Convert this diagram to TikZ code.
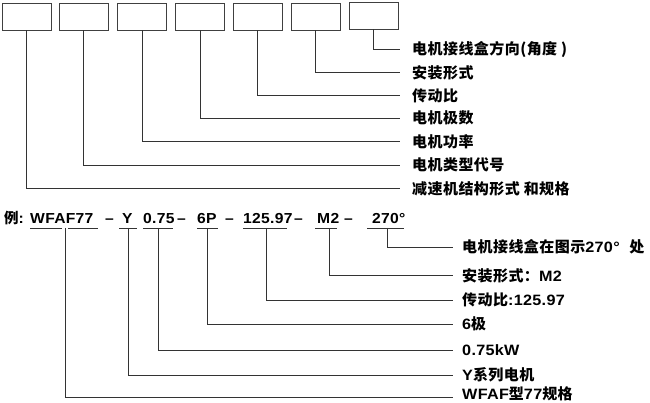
\documentclass[tikz,border=0pt]{standalone}
\usepackage{fontspec}
\setmainfont{Liberation Sans}[FakeStretch=1.08, LetterSpace=2]
\newfontfamily\cjk{Noto Sans CJK SC}[LetterSpace=3]
\newcommand{\zh}[1]{{\cjk\bfseries #1}}
\begin{document}
\begin{tikzpicture}[x=1pt,y=-1pt,
  box/.style={draw=black!75, line width=0.8pt, minimum width=49pt, minimum height=27pt, inner sep=0pt},
  lbl/.style={anchor=west, inner sep=0pt, font=\fontsize{15}{17}\selectfont\bfseries},
  ex/.style={anchor=base west, inner sep=0pt, font=\fontsize{14.5}{16}\selectfont\bfseries},
  ln/.style={draw=black!80, line width=0.75pt}]
\useasboundingbox (0,0) rectangle (650,403);
% top boxes
\node[box] (b1) at (26.5,16.5) {};
\node[box] (b2) at (83.5,16.5) {};
\node[box] (b3) at (142,16.5) {};
\node[box] (b4) at (200,16.5) {};
\node[box] (b5) at (257.5,16.5) {};
\node[box] (b6) at (315.5,16.5) {};
\node[box] (b7) at (373.5,15.5) {};
% top labels
\node[lbl] (l7) at (412,49) {\zh{电机接线盒方向(角度 )}};
\node[lbl] (l6) at (412,72.5) {\zh{安装形式}};
\node[lbl] (l5) at (412,95.5) {\zh{传动比}};
\node[lbl] (l4) at (412,118) {\zh{电机极数}};
\node[lbl] (l3) at (412,141.5) {\zh{电机功率}};
\node[lbl] (l2) at (412,165) {\zh{电机类型代号}};
\node[lbl] (l1) at (412,188.5) {\zh{减速机结构形式 和规格}};
\foreach \i in {1,...,7}{
  \draw[ln] (b\i.south) |- ([xshift=-12pt]l\i.west);
}
% example line
\node[ex] (e0) at (4,224) {\zh{例}:};
\node[ex] (e1) at (30,224) {WFAF77};
\node[ex] (d1) at (105,224) {–};
\node[ex] (e2) at (122,224) {Y};
\node[ex] (e3) at (143,224) {0.75};
\node[ex] (d2) at (177,224) {–};
\node[ex] (e4) at (197,224) {6P};
\node[ex] (d3) at (225,224) {–};
\node[ex] (e5) at (243,224) {125.97};
\node[ex] (d4) at (294,224) {–};
\node[ex] (e6) at (317,224) {M2};
\node[ex] (d5) at (344,224) {–};
\node[ex] (e7) at (372,224) {270°};
% underlines
\draw[ln] (30,228) -- (62,228);
\draw[ln] (68,228) -- (98,228);
\draw[ln] (119,228) -- (137,228);
\draw[ln] (143,228) -- (173,228);
\draw[ln] (197,228) -- (218,228);
\draw[ln] (243,228) -- (287,228);
\draw[ln] (315,228) -- (337,228);
\draw[ln] (367,228) -- (404,228);
\coordinate (u1) at (65,228);
\coordinate (u2) at (128,228);
\coordinate (u3) at (158,228);
\coordinate (u4) at (207,228);
\coordinate (u5) at (266,228);
\coordinate (u6) at (329,228);
\coordinate (u7) at (387,228);
% bottom labels
\node[lbl] (m7) at (462,247) {\zh{电机接线盒在图示}270°\ \ \zh{处}};
\node[lbl] (m6) at (462,275.5) {\zh{安装形式：}M2};
\node[lbl] (m5) at (462,300) {\zh{传动比}:125.97};
\node[lbl] (m4) at (462,324) {6\zh{极}};
\node[lbl] (m3) at (462,350) {0.75kW};
\node[lbl] (m2) at (462,375) {Y\zh{系列电机}};
\node[lbl] (m1) at (462,393.5) {WFAF\zh{型}77\zh{规格}};
\foreach \i in {2,...,7}{
  \draw[ln] (u\i) |- ([xshift=-9pt]m\i.west);
}
\draw[ln] (u1) |- ([xshift=-9pt,yshift=-3.5pt]m1.west);
\end{tikzpicture}
\end{document}
